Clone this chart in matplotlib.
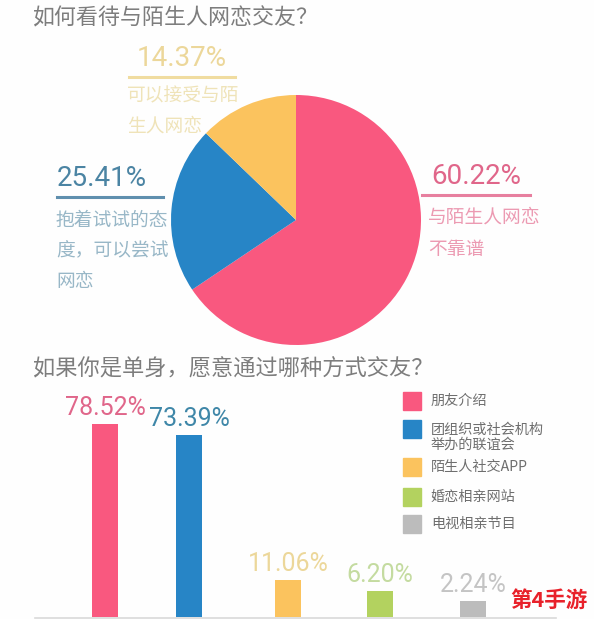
import matplotlib
matplotlib.use('Agg')
import matplotlib.pyplot as plt
from matplotlib.patches import Rectangle

plt.rcParams['font.family'] = ['Noto Sans CJK SC', 'DejaVu Sans']

W, H = 594, 619

# pie: shares as drawn (the slices are not in proportion to the printed numbers)
pie_shares = [65.6, 21.6, 12.8]
pie_colors = ['#f9587f', '#2785c6', '#fbc35e']

# bars: heights as drawn, labels as printed
bar_names = ['朋友介绍', '团组织或社会机构\n举办的联谊会', '陌生人社交APP', '婚恋相亲网站', '电视相亲节目']
bar_heights = [78.5, 73.9, 15.0, 10.6, 6.5]
bar_labels = ['78.52%', '73.39%', '11.06%', '6.20%', '2.24%']
bar_colors = ['#f9587f', '#2785c6', '#fbc35e', '#b3d25f', '#bcbcbc']
label_colors = ['#e0668a', '#3f87a8', '#ecd79a', '#c4dba0', '#c4c4c4']
bar_pos = [105, 189, 288, 380, 473]

fig = plt.figure(figsize=(W / 100, H / 100), dpi=100, facecolor='#fefefe')

def fx(x):
    return x / W

def fy(y):
    return 1 - y / H

def txt(x, y, s, size, color, **kw):
    fig.text(fx(x), fy(y), s, fontsize=size, color=color, va='center', ha=kw.pop('ha', 'left'), **kw)

def rule(x0, x1, y, color, lw=2.2):
    fig.add_artist(plt.Line2D([fx(x0), fx(x1)], [fy(y), fy(y)], color=color, lw=lw))

# pie
r = 125
cx, cy = 296, 220
ax_pie = fig.add_axes([fx(cx - r), fy(cy + r), 2 * r / W, 2 * r / H])
ax_pie.pie(pie_shares, colors=pie_colors, startangle=90, counterclock=False, radius=1,
           wedgeprops={'linewidth': 0})
ax_pie.set_xlim(-1, 1)
ax_pie.set_ylim(-1, 1)

txt(33, 18, '如何看待与陌生人网恋交友\uff1f', 15.8, '#7d7d7d', fontweight='light')
txt(33, 369, '如果你是单身\uff0c愿意通过哪种方式交友\uff1f', 16, '#7d7d7d', fontweight='light')

num_font = 'Roboto'

# pie callouts
txt(182, 58, '14.37%', 20, '#ecd79a', ha='center', family=num_font)
rule(129, 235, 77, '#f0dca0')
txt(127, 96, '可以接受与陌', 13.5, '#efe3b8', fontweight='light')
txt(127, 126, '生人网恋', 13.5, '#efe3b8', fontweight='light')

txt(102, 178, '25.41%', 20, '#4b84a3', ha='center', family=num_font)
rule(57, 163, 197, '#5f8fae')
txt(56, 220, '抱着试试的态', 13.5, '#98b7c7', fontweight='light')
txt(56, 251, '度\uff0c可以尝试', 13.5, '#98b7c7', fontweight='light')
txt(56, 282, '网恋', 13.5, '#98b7c7', fontweight='light')

txt(476, 177, '60.22%', 20, '#e0668a', ha='center', family=num_font)
rule(422, 530, 195, '#e77f9f')
txt(428, 217, '与陌生人网恋', 13.5, '#ec9ab2', fontweight='light')
txt(428, 249, '不靠谱', 13.5, '#ec9ab2', fontweight='light')

# bars, axes spans pixel columns so x positions are in pixels
base_y = 617
unit = (617 - 424) / 78.5
ax_bar = fig.add_axes([0, fy(base_y), 1, (base_y - 400) / H])
ax_bar.patch.set_alpha(0)
ax_bar.bar(bar_pos, bar_heights, width=26, color=bar_colors)
ax_bar.set_xlim(0, W)
ax_bar.set_ylim(0, (base_y - 400) / unit)
ax_bar.axis('off')
for x, h, s, c in zip(bar_pos, bar_heights, bar_labels, label_colors):
    ax_bar.annotate(s, (x, h), xytext=(0, 3), textcoords='offset points', ha='center', va='bottom',
                    fontsize=18, color=c, family=num_font, annotation_clip=False)
rule(35, 556, 617.5, '#d9d9d9', lw=1.2)

# legend
leg_y = [401, 429, 467, 497, 524]
text_y = [401, 437.5, 467, 497, 524]
for y, ty, name, c in zip(leg_y, text_y, bar_names, bar_colors):
    fig.add_artist(Rectangle((fx(403), fy(y + 9)), 18 / W, 18 / H, color=c, transform=fig.transFigure))
    fig.text(fx(431), fy(ty), name, fontsize=10.2, color='#6e6e6e', va='center', linespacing=1.1)

# watermark
txt(549, 600, '第4手游', 15.5, '#e8212a', ha='center', fontweight='bold')

fig.savefig('out.png', dpi=100, facecolor=fig.get_facecolor())
